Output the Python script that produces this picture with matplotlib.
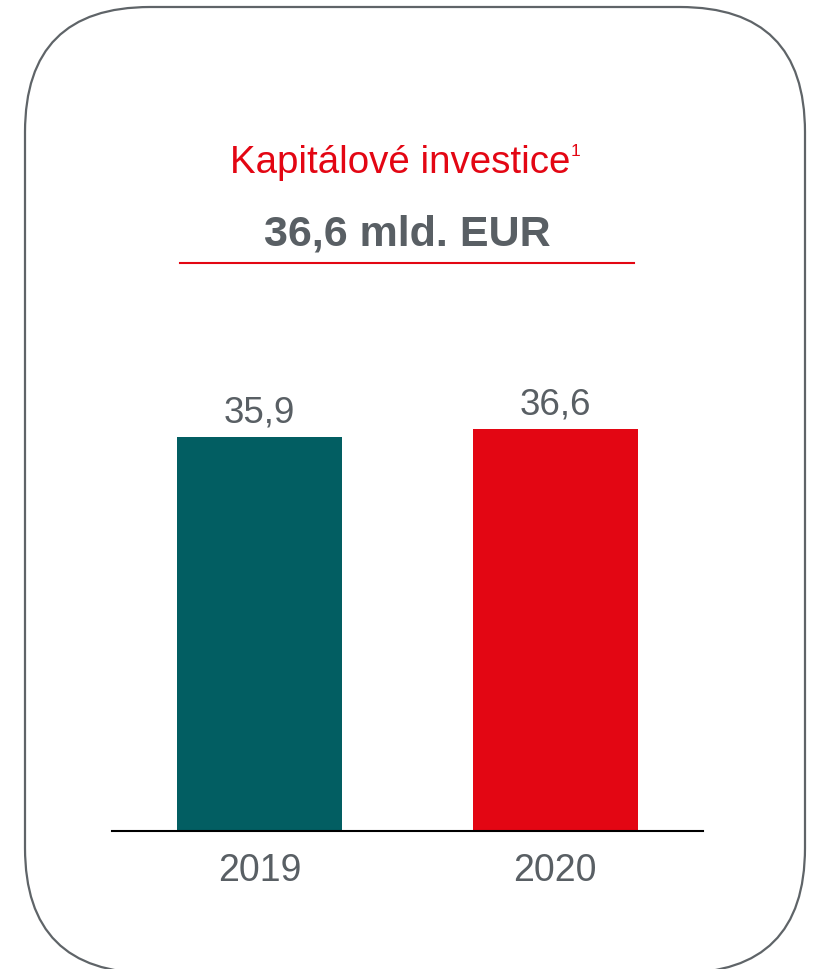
import matplotlib
matplotlib.use("Agg")
import matplotlib.pyplot as plt
from matplotlib.patches import FancyBboxPatch

plt.rcParams['font.family'] = ['Liberation Sans', 'DejaVu Sans']

# data
years = ['2019', '2020']
capex = [35.9, 36.6]
labels = ['35,9', '36,6']
bar_colors = ['#025E62', '#E30613']

title = 'Kapitálové investice'
headline = '36,6 mld. EUR'

grey = '#595F64'
red = '#E30613'

W, H = 818, 970
fig = plt.figure(figsize=(W / 100, H / 100), dpi=100)

# background layer in pixel coords (y measured from bottom)
bg = fig.add_axes([0, 0, 1, 1])
bg.set_xlim(0, W)
bg.set_ylim(0, H)
bg.axis('off')

# rounded frame, bottom edge runs just past the image
frame = FancyBboxPatch((25, H - 974), 780, 966, boxstyle="round,pad=0,rounding_size=125",
                       fill=False, edgecolor='#5F6468', linewidth=1.6)
bg.add_patch(frame)

bg.text(230, H - 173, title, color=red, fontsize=27.7, ha='left', va='baseline')
bg.text(571, H - 156, '1', color=red, fontsize=12.5, ha='left', va='baseline')
bg.text(407, H - 245, headline, color=grey, fontsize=31, fontweight='bold',
        ha='center', va='baseline')
bg.plot([180, 634], [H - 264, H - 264], color=red, linewidth=1.5)

# bar chart
top_px = 300
ax = fig.add_axes([112 / W, (H - 832) / H, 591 / W, (832 - top_px) / H])
ax.set_facecolor('none')
x = range(len(years))
ax.bar(x, capex, width=0.56, color=bar_colors)
ax.set_xlim(-0.5, 1.5)
ax.set_ylim(0, (832 - top_px) / 10.97)

for i, v in enumerate(capex):
    ax.annotate(labels[i], (i, v), xytext=(0, 11.5), textcoords='offset points',
                ha='center', va='baseline', fontsize=26.5, color=grey)

ax.set_xticks(list(x))
ax.set_xticklabels(years, fontsize=27, color=grey)
ax.tick_params(axis='x', length=0, pad=15)
ax.set_yticks([])
for s in ['top', 'left', 'right']:
    ax.spines[s].set_visible(False)
ax.spines['bottom'].set_linewidth(1.5)
ax.spines['bottom'].set_color('black')

fig.savefig('out.png', dpi=100)
